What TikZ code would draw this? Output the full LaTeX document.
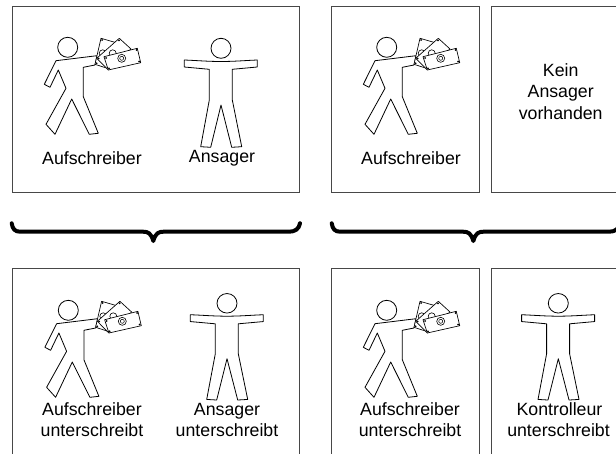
\documentclass[tikz,border=0pt]{standalone}
\usepackage{fontspec}
\setmainfont{Liberation Sans}
\tikzset{
  panel/.style={draw=black!72,line width=0.75pt},
  figline/.style={draw=black,fill=white,line width=0.6pt,line join=round},
  billline/.style={draw=black,fill=white,line width=0.5pt,line join=round},
  brace/.style={draw=black,line width=3pt,line cap=round,line join=round},
  lbl/.style={font=\fontsize{13.3}{16}\selectfont,anchor=base,inner sep=0pt},
  walker/.pic={
    \draw[figline] (67.7,47.3) circle (10);
    \draw[figline] (56,60.7) -- (97,55.7) -- (95,65) -- (83.3,67.3) -- (83.3,96.7)
      -- (98.3,133.3) -- (89.3,134.3) -- (71.7,99) -- (55,134.3) -- (46,124.3)
      -- (66,88.3) -- (58.3,70) -- (50,87.3) -- (44.3,84.3) -- cycle;
    \draw[billline] (101,38.3) -- (118.3,43.3) -- (107.3,68.3) -- (95,64.3) -- cycle;
    \draw[line width=0.45pt] (102.7,53.3) circle (3.5);
    \fill (96.6,63.3) circle (1) (102,40) circle (1);
    \draw[billline] (119.3,38.3) -- (131,49) -- (108.3,70) -- (96.7,58.3) -- cycle;
    \draw[line width=0.45pt] (112.7,53.3) circle (3.5);
    \fill (98.6,58.5) circle (1) (119,40.3) circle (1);
    \draw[billline] (104,56.7) -- (137.3,48.3) -- (140.7,62.7) -- (108.3,70) -- cycle;
    \draw[line width=0.45pt] (121.7,58.3) circle (4);
    \draw[line width=0.4pt] (121.7,58.3) circle (2);
    \fill (106,58) circle (1) (136.5,50) circle (1) (139,61.5) circle (1) (109,68.3) circle (1);
  },
  stander/.pic={
    \draw[figline] (221,48.3) circle (10);
    \draw[figline] (184.3,60) .. controls (197,60.5) and (208,61.5) .. (221,61.5)
      .. controls (234,61.5) and (245,60.5) .. (257.3,60)
      -- (257.3,67) -- (232.3,69.3) -- (232.3,100) -- (241.7,146.7) -- (231.7,147.3)
      -- (221,105) -- (210.7,147.3) -- (200.7,146.7) -- (209.3,100) -- (209.3,69.3)
      -- (184.3,67) -- cycle;
  }
}
\begin{document}
\begin{tikzpicture}[x=0.75pt,y=-0.75pt]
\useasboundingbox (0,0) rectangle (616,453);
\clip (0,0) rectangle (616,453);
\path[fill=white] (0,0) rectangle (616,453);
\draw[panel] (12,6.7) rectangle (299.7,192);
\draw[panel] (331.7,6.7) rectangle (479,192);
\draw[panel] (491.7,6.7) rectangle (640,192);
\draw[panel] (12,268.7) rectangle (299.7,470);
\draw[panel] (331.7,268.7) rectangle (479,470);
\draw[panel] (491.7,268.7) rectangle (640,470);
\pic at (0,0) {walker};
\pic at (0,0) {stander};
\pic at (319,0) {walker};
\pic at (0.6,263) {walker};
\pic[yscale=0.977] at (6,256.1) {stander};
\pic at (319,263) {walker};
\pic[yscale=0.977] at (337.3,256.1) {stander};
\draw[brace] (11.7,223.3) .. controls (12.5,229) and (15,231.7) .. (20,231.7) -- (143,231.7)
  .. controls (148,231.7) and (151,233) .. (153.3,241)
  .. controls (155.6,233) and (158.6,231.7) .. (163.6,231.7) -- (289,231.7)
  .. controls (295,231.7) and (299,229) .. (300,223.3);
\draw[brace] (331.7,223.3) .. controls (332.5,229) and (335,231.7) .. (340,231.7) -- (463,231.7)
  .. controls (468,231.7) and (471,233) .. (473.3,241)
  .. controls (475.6,233) and (478.6,231.7) .. (483.6,231.7) -- (609,231.7)
  .. controls (615,231.7) and (619,229) .. (620,223.3);
\node[lbl] (a1) at (92,164) {Aufschreiber};
\node[lbl] (b1) at (222,162) {Ansager};
\node[lbl] (a2) at (411,164) {Aufschreiber};
\node[lbl] (k1) at (560.7,76) {Kein};
\node[lbl] (k2) at (560.7,97.7) {Ansager};
\node[lbl] (k3) at (560.7,119) {vorhanden};
\node[lbl] (c1) at (92,415.5) {Aufschreiber};
\node[lbl] (c2) at (92,436.7) {unterschreibt};
\node[lbl] (d1) at (227,415.5) {Ansager};
\node[lbl] (d2) at (227,436.7) {unterschreibt};
\node[lbl] (e1) at (410,415.5) {Aufschreiber};
\node[lbl] (e2) at (410,436.7) {unterschreibt};
\node[lbl] (f1) at (559.5,415.5) {Kontrolleur};
\node[lbl] (f2) at (558.5,436.7) {unterschreibt};
\end{tikzpicture}
\end{document}
